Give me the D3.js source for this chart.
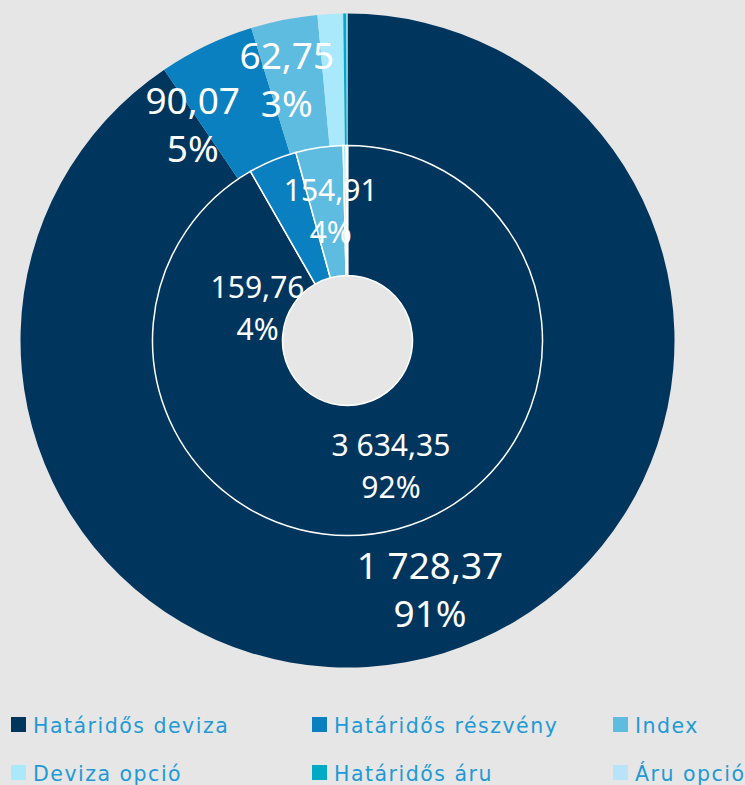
<!DOCTYPE html>
<html>
<head>
<meta charset="utf-8">
<script src="https://cdn.jsdelivr.net/npm/d3@7"></script>
<style>
  body { margin: 0; background: #e6e6e6; }
  svg { display: block; }
</style>
</head>
<body>
<svg id="chart" width="745" height="785"></svg>
<script>
// categories (legend order = slice order, clockwise from 12 o'clock)
var categories = ["Határidős deviza", "Határidős részvény", "Index", "Deviza opció", "Határidős áru", "Áru opció"];
var colors = ["#00365e", "#0a80c0", "#5dbce0", "#a9e9fb", "#00aac6", "#b9e3f8"];

// outer ring values
var outerValues = [1728.37, 90.07, 62.75, 24, 3, 1];
// inner ring values
var innerValues = [3634.35, 159.76, 154.91, 10, 4, 0];

var width = 745, height = 785;
var cx = 347.5, cy = 340.5;

var svg = d3.select("#chart");

svg.append("rect")
  .attr("x", 0).attr("y", 0)
  .attr("width", width).attr("height", height)
  .attr("fill", "#e6e6e6");

var loc = d3.formatLocale({decimal: ",", thousands: " ", grouping: [3], currency: ["", ""]});
var fmt = loc.format(",.2f");

var pie = d3.pie().sort(null).value(function(d) { return d; });

var g = svg.append("g").attr("transform", "translate(" + cx + "," + cy + ")");

var outerArc = d3.arc().innerRadius(195).outerRadius(327);
var innerArc = d3.arc().innerRadius(65).outerRadius(195);

// label nudges (labels were moved by hand in the original)
var outerNudge = [[6, 0], [-42, 20], [-10, -4]];
var innerNudge = [[10, 0], [-40, 88], [2, 0]];

function ring(values, arc, cls, stroke, fontSize, lineH, nudge) {
  var total = d3.sum(values);
  var arcs = pie(values);

  g.selectAll("path." + cls)
    .data(arcs)
    .enter()
    .append("path")
    .attr("class", cls)
    .attr("d", arc)
    .attr("fill", function(d, i) { return colors[i]; })
    .attr("stroke", stroke ? "white" : "none")
    .attr("stroke-width", stroke ? 1.5 : 0);

  var labels = g.selectAll("g." + cls + "-lab")
    .data(arcs.filter(function(d) { return d.value / total >= 0.02; }))
    .enter()
    .append("g")
    .attr("class", cls + "-lab")
    .attr("transform", function(d) {
      var c = arc.centroid(d);
      var n = nudge[d.index] || [0, 0];
      return "translate(" + (c[0] + n[0]) + "," + (c[1] + n[1]) + ")";
    });

  labels.append("text")
    .attr("text-anchor", "middle")
    .attr("y", -lineH / 2 + fontSize * 0.35)
    .attr("font-family", "'Noto Sans', sans-serif")
    .attr("font-size", fontSize)
    .attr("fill", "white")
    .text(function(d) { return fmt(d.value); });

  labels.append("text")
    .attr("text-anchor", "middle")
    .attr("y", lineH / 2 + fontSize * 0.35)
    .attr("font-family", "'Noto Sans', sans-serif")
    .attr("font-size", fontSize)
    .attr("fill", "white")
    .text(function(d) { return Math.round(d.value / total * 100) + "%"; });
}

ring(outerValues, outerArc, "outer", false, 37, 48, outerNudge);
ring(innerValues, innerArc, "inner", true, 30, 42, innerNudge);

// legend
var legend = svg.selectAll("g.legend")
  .data(categories)
  .enter()
  .append("g")
  .attr("class", "legend")
  .attr("transform", function(d, i) {
    return "translate(" + (11 + (i % 3) * 301) + "," + (717 + Math.floor(i / 3) * 48) + ")";
  });

legend.append("rect")
  .attr("width", 15)
  .attr("height", 15)
  .attr("fill", function(d, i) { return colors[i]; });

legend.append("text")
  .attr("x", 22)
  .attr("y", 15.5)
  .attr("font-family", "'DejaVu Sans', sans-serif")
  .attr("font-size", 20.5)
  .attr("letter-spacing", 1.5)
  .attr("fill", "#1e9ad6")
  .text(function(d) { return d; });
</script>
</body>
</html>
